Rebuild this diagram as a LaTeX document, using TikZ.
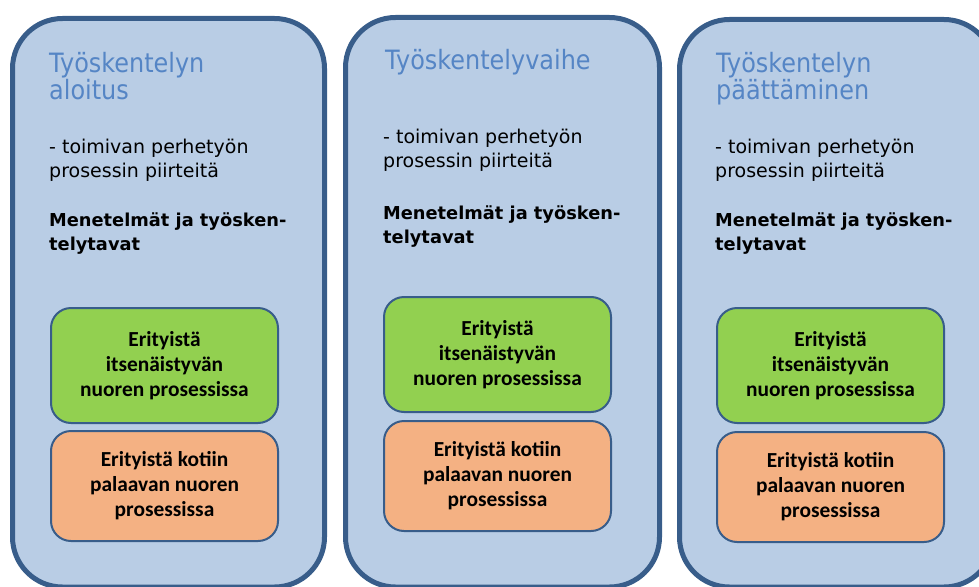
\documentclass[tikz,border=0pt]{standalone}
\usepackage{fontspec}
\setmainfont{DejaVu Sans}
\newfontfamily\titlefont[FakeStretch=0.9]{DejaVu Sans}
\newfontfamily\bodyfont{DejaVu Sans}
\newfontfamily\boxfont{Carlito}
\definecolor{panelfill}{HTML}{B9CDE5}
\definecolor{paneldraw}{HTML}{385D8A}
\definecolor{titleblue}{HTML}{5585C5}
\definecolor{boxgreen}{HTML}{92D050}
\definecolor{boxorange}{HTML}{F4B183}
\tikzset{
  panel/.style={draw=paneldraw, fill=panelfill, line width=5pt, rounded corners=50pt},
  ttl/.style={anchor=base west, inner sep=0pt, align=left, text=titleblue,
    font={\titlefont\fontsize{26.6}{27}\selectfont}},
  bodytxt/.style={anchor=base west, inner sep=0pt, align=left, text=black,
    font={\bodyfont\fontsize{19}{24}\selectfont}},
  boldtxt/.style={anchor=base west, inner sep=0pt, align=left, text=black,
    font={\bodyfont\bfseries\fontsize{17.8}{24}\selectfont}},
  subbox/.style={draw=paneldraw, line width=2pt, rounded corners=20pt, outer sep=0pt,
    anchor=north west, align=center, text=black, inner sep=0pt,
    minimum width=227pt, font={\boxfont\bfseries\fontsize{21.4}{25}\selectfont}},
  gbox/.style={subbox, fill=boxgreen, minimum height=115pt},
  obox/.style={subbox, fill=boxorange, minimum height=110pt}
}
\begin{document}
\begin{tikzpicture}[x=1pt,y=-1pt]
\useasboundingbox (0,0) rectangle (979,586);
\begin{scope}
\clip (0,0) rectangle (979,586);
\draw[panel] (12.5,18.5) rectangle (324.5,587);
\draw[panel] (345.5,17.5) rectangle (659.5,587);
\draw[panel] (679.5,19.5) rectangle (994,587);
\end{scope}

% Panel 1 (anchors at the baseline of the last line)
\node[ttl] (t1) at (49,99) {Työskentelyn\\aloitus};
\node[bodytxt] (b1) at (49,177) {- toimivan perhetyön\\prosessin piirteitä};
\node[boldtxt] (m1) at (49,250) {Menetelmät ja työsken-\\telytavat};
\node[gbox] (g1) at (51,308) {Erityistä\\itsenäistyvän\\nuoren prosessissa};
\node[obox] (o1) at (51,431) {Erityistä kotiin\\palaavan nuoren\\prosessissa};

% Panel 2
\node[ttl] (t2) at (385,70) {Työskentelyvaihe};
\node[bodytxt] (b2) at (383,167) {- toimivan perhetyön\\prosessin piirteitä};
\node[boldtxt] (m2) at (383,243) {Menetelmät ja työsken-\\telytavat};
\node[gbox] (g2) at (384,297) {Erityistä\\itsenäistyvän\\nuoren prosessissa};
\node[obox] (o2) at (384,421) {Erityistä kotiin\\palaavan nuoren\\prosessissa};

% Panel 3
\node[ttl] (t3) at (716,99) {Työskentelyn\\päättäminen};
\node[bodytxt] (b3) at (715,177) {- toimivan perhetyön\\prosessin piirteitä};
\node[boldtxt] (m3) at (715,250) {Menetelmät ja työsken-\\telytavat};
\node[gbox] (g3) at (717,308) {Erityistä\\itsenäistyvän\\nuoren prosessissa};
\node[obox] (o3) at (717,432) {Erityistä kotiin\\palaavan nuoren\\prosessissa};
\end{tikzpicture}
\end{document}
